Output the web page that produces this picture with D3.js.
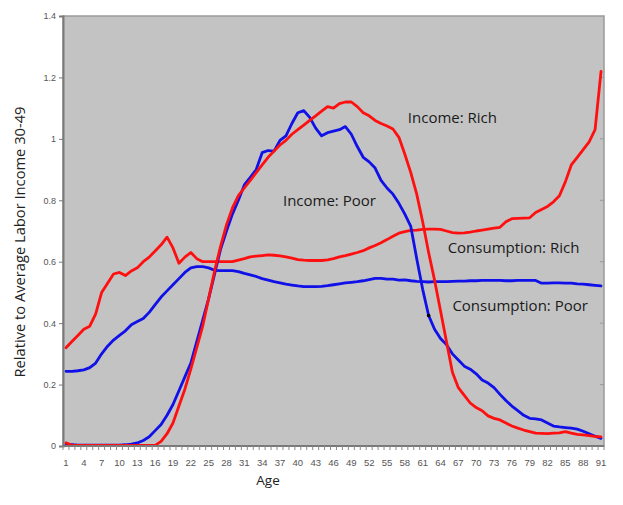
<!DOCTYPE html>
<html>
<head>
<meta charset="utf-8">
<script src="https://cdn.jsdelivr.net/npm/d3@7"></script>
<style>
html,body{margin:0;padding:0;background:#fff;}
svg{display:block;}
</style>
</head>
<body>
<svg id="chart" width="623" height="505"></svg>
<script>
// ---- Data (ages 1..91) ----
const ages = d3.range(1, 92);
const yTicks = [0, 0.2, 0.4, 0.6, 0.8, 1, 1.2, 1.4];
const xTickAges = d3.range(1, 92, 3);

const consumptionRich = [
0.32,0.34,0.36,0.38,0.39,0.43,0.50,0.53,0.56,0.565,
0.555,0.57,0.58,0.60,0.615,0.635,0.655,0.68,0.645,0.595,
0.615,0.63,0.61,0.60,0.60,0.60,0.60,0.60,0.60,0.605,
0.61,0.616,0.618,0.62,0.622,0.621,0.619,0.616,0.612,0.607,
0.605,0.604,0.604,0.604,0.606,0.61,0.616,0.62,0.625,0.63,
0.636,0.645,0.653,0.662,0.672,0.683,0.693,0.698,0.702,0.703,
0.705,0.706,0.706,0.705,0.70,0.695,0.693,0.694,0.696,0.70,
0.703,0.706,0.709,0.712,0.73,0.74,0.741,0.742,0.743,0.76,
0.77,0.78,0.795,0.815,0.86,0.915,0.94,0.965,0.99,1.03,
1.22];

const consumptionPoor = [
0.243,0.243,0.245,0.248,0.255,0.27,0.30,0.325,0.345,0.36,
0.375,0.395,0.405,0.415,0.435,0.46,0.485,0.505,0.525,0.545,
0.565,0.58,0.584,0.584,0.58,0.572,0.571,0.571,0.571,0.568,
0.562,0.557,0.552,0.545,0.54,0.535,0.531,0.527,0.524,0.521,
0.519,0.519,0.519,0.52,0.522,0.525,0.528,0.531,0.533,0.535,
0.538,0.542,0.546,0.546,0.543,0.543,0.54,0.541,0.538,0.536,
0.535,0.534,0.535,0.535,0.535,0.536,0.537,0.537,0.538,0.538,
0.539,0.539,0.539,0.539,0.538,0.538,0.539,0.539,0.539,0.539,
0.53,0.53,0.531,0.531,0.53,0.53,0.528,0.527,0.525,0.523,
0.521];

const incomePoor = [
0.005,0.004,0.003,0.003,0.003,0.003,0.003,0.003,0.003,0.003,
0.004,0.006,0.01,0.018,0.03,0.05,0.07,0.10,0.135,0.18,
0.225,0.27,0.34,0.41,0.48,0.56,0.64,0.70,0.755,0.80,
0.85,0.875,0.90,0.955,0.962,0.96,0.995,1.01,1.05,1.085,
1.092,1.07,1.035,1.01,1.02,1.025,1.03,1.04,1.015,0.975,
0.94,0.925,0.905,0.865,0.84,0.82,0.79,0.755,0.715,0.61,
0.51,0.425,0.38,0.35,0.33,0.30,0.28,0.26,0.25,0.235,
0.215,0.205,0.19,0.168,0.148,0.13,0.115,0.10,0.09,0.088,
0.085,0.075,0.065,0.062,0.06,0.058,0.055,0.048,0.04,0.032,
0.025];

const incomeRich = [
0.01,0.003,0.002,0.002,0.002,0.002,0.002,0.002,0.002,0.002,
0.002,0.002,0.002,0.002,0.002,0.002,0.015,0.04,0.075,0.13,
0.185,0.25,0.32,0.39,0.48,0.57,0.65,0.72,0.775,0.815,
0.84,0.865,0.89,0.915,0.94,0.96,0.98,0.995,1.015,1.03,
1.045,1.06,1.075,1.09,1.105,1.10,1.115,1.12,1.12,1.105,
1.085,1.075,1.06,1.05,1.042,1.032,1.005,0.95,0.89,0.82,
0.73,0.63,0.54,0.44,0.34,0.24,0.19,0.165,0.14,0.125,
0.115,0.098,0.09,0.085,0.075,0.065,0.058,0.052,0.047,0.042,
0.041,0.04,0.042,0.043,0.047,0.042,0.038,0.036,0.034,0.031,
0.03];

const seriesNames = ["Consumption: Rich", "Consumption: Poor", "Income: Poor", "Income: Rich"];
const seriesColors = ["#ff1010", "#1010e8", "#1010e8", "#ff1010"];
const seriesValues = [consumptionRich, consumptionPoor, incomePoor, incomeRich];

// label anchor positions expressed in data terms (age, value)
const labelAges  = [65.7, 66.5, 38, 59];
const labelVals  = [0.647, 0.456, 0.80, 1.07];

// ---- Layout ----
const svg = d3.select("#chart");
const L = 63, R = 604, T = 16, B = 446;

const x = d3.scaleBand().domain(ages).range([L, R]).padding(0);
const xc = a => x(a) + x.bandwidth() / 2;
const xPos = a => L + (a - 1) * x.bandwidth();   // continuous position for label anchors
const y = d3.scaleLinear().domain([0, 1.4]).range([B, T]);

// plot background
svg.append("rect").attr("x", L).attr("y", T).attr("width", R - L).attr("height", B - T)
  .attr("fill", "#c3c3c3").attr("stroke", "#9a9a9a").attr("stroke-width", 1.5);

// faint right-side tick stubs
svg.append("g").selectAll("line").data(yTicks.slice(1, -1)).join("line")
  .attr("x1", R - 4).attr("x2", R).attr("y1", d => y(d)).attr("y2", d => y(d))
  .attr("stroke", "#9a9a9a").attr("stroke-width", 1);

// lines
const line = d3.line().x((d, i) => xc(ages[i])).y(d => y(d));
const order = [0, 1, 2, 3];
svg.append("g").selectAll("path").data(order).join("path")
  .attr("d", i => line(seriesValues[i]))
  .attr("fill", "none")
  .attr("stroke", i => seriesColors[i])
  .attr("stroke-width", 2.8)
  .attr("stroke-linejoin", "round")
  .attr("stroke-linecap", "round");

// small black marker on Income: Poor
svg.append("circle").attr("cx", xc(62)).attr("cy", y(incomePoor[61])).attr("r", 1.8).attr("fill", "#000");

// y axis
const yAxis = d3.axisLeft(y).tickValues(yTicks).tickSize(4).tickFormat(d3.format("~g"));
const gy = svg.append("g").attr("transform", `translate(${L},0)`).call(yAxis);
gy.select(".domain").attr("stroke", "#7a7a7a").attr("stroke-width", 2);
gy.selectAll(".tick line").attr("stroke", "#7a7a7a");
gy.selectAll(".tick text").attr("fill", "#555").attr("font-family", "Liberation Sans Narrow, Liberation Sans, Arial")
  .attr("font-size", 9).attr("x", -7);

// x axis (labels at category centres)
const xAxis = d3.axisBottom(x).tickValues(xTickAges).tickSize(0).tickPadding(13);
const gx = svg.append("g").attr("transform", `translate(0,${B})`).call(xAxis);
gx.select(".domain").remove();
gx.selectAll(".tick text").attr("fill", "#555").attr("font-family", "Liberation Sans Narrow, Liberation Sans, Arial")
  .attr("font-size", 9.5);
// x axis baseline
svg.append("line").attr("x1", L).attr("x2", R).attr("y1", B).attr("y2", B)
  .attr("stroke", "#7a7a7a").attr("stroke-width", 2);
// minor ticks at category boundaries
svg.append("g").selectAll("line").data(ages.concat([92])).join("line")
  .attr("x1", a => a <= 91 ? x(a) : R).attr("x2", a => a <= 91 ? x(a) : R)
  .attr("y1", B).attr("y2", B + 4)
  .attr("stroke", "#8a8a8a").attr("stroke-width", 1);

// series labels
svg.append("g").selectAll("text").data(order).join("text")
  .attr("x", i => xPos(labelAges[i]))
  .attr("y", i => y(labelVals[i]))
  .attr("dy", "0.35em")
  .attr("font-family", "Open Sans, Lato, sans-serif")
  .attr("font-size", 15)
  .attr("fill", "#1a1a1a")
  .text(i => seriesNames[i]);

// axis titles
svg.append("text").attr("x", 268).attr("y", 485)
  .attr("text-anchor", "middle")
  .attr("font-family", "Open Sans, Lato, sans-serif").attr("font-size", 13.5).attr("fill", "#222")
  .text("Age");
svg.append("text").attr("transform", "translate(25,242) rotate(-90)")
  .attr("text-anchor", "middle")
  .attr("font-family", "Open Sans, Lato, sans-serif").attr("font-size", 14.7).attr("fill", "#222")
  .text("Relative to Average Labor Income 30-49");
</script>
</body>
</html>
